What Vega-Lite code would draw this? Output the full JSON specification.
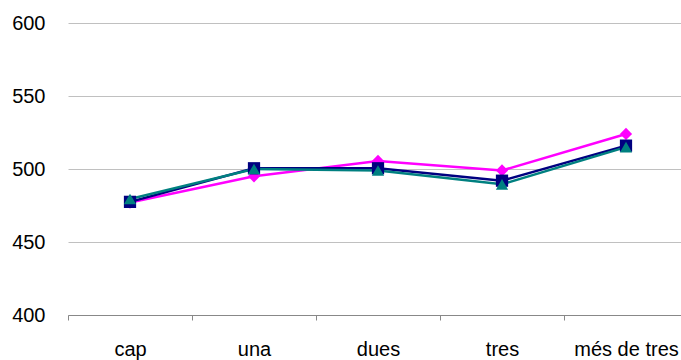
{
  "$schema": "https://vega.github.io/schema/vega-lite/v6.json",
  "width": 620,
  "height": 292,
  "autosize": {"type": "none"},
  "padding": {"left": 68, "top": 23, "right": 0, "bottom": 45},
  "background": "white",
  "config": {"view": {"stroke": null}, "font": "Liberation Sans"},
  "data": {"values": [
    {"cat": "cap", "s": "a", "v": 477},
    {"cat": "una", "s": "a", "v": 495},
    {"cat": "dues", "s": "a", "v": 505.5},
    {"cat": "tres", "s": "a", "v": 499},
    {"cat": "més de tres", "s": "a", "v": 524},
    {"cat": "cap", "s": "b", "v": 477.5},
    {"cat": "una", "s": "b", "v": 500.5},
    {"cat": "dues", "s": "b", "v": 500.5},
    {"cat": "tres", "s": "b", "v": 492},
    {"cat": "més de tres", "s": "b", "v": 516},
    {"cat": "cap", "s": "c", "v": 479.5},
    {"cat": "una", "s": "c", "v": 500},
    {"cat": "dues", "s": "c", "v": 499},
    {"cat": "tres", "s": "c", "v": 489.5},
    {"cat": "més de tres", "s": "c", "v": 515}
  ]},
  "encoding": {
    "x": {
      "field": "cat", "type": "nominal",
      "sort": ["cap", "una", "dues", "tres", "més de tres"],
      "scale": {"type": "band", "paddingInner": 0, "paddingOuter": 0},
      "axis": {"title": null, "labelAngle": 0, "tickBand": "extent", "domainColor": "#888888", "tickColor": "#888888", "tickSize": 5, "labelPadding": 19, "labelFontSize": 20, "labelColor": "black", "grid": false, "labelFont": "Liberation Sans"}
    },
    "y": {
      "field": "v", "type": "quantitative",
      "scale": {"domain": [400, 600], "nice": false, "zero": false},
      "axis": {"title": null, "values": [400, 450, 500, 550, 600], "domain": false, "ticks": false, "tickSize": 0, "labelPadding": 23, "grid": true, "gridColor": "#c0c0c0", "labelFontSize": 20, "labelColor": "black", "labelFont": "Liberation Sans"}
    },
    "color": {
      "field": "s", "type": "nominal",
      "scale": {"domain": ["a", "b", "c"], "range": ["#ff00ff", "#000080", "#008080"]},
      "legend": null
    }
  },
  "layer": [
    {"mark": {"type": "line", "strokeWidth": 2.5}},
    {
      "mark": {"type": "point", "filled": true, "opacity": 1, "size": 150},
      "encoding": {
        "shape": {"field": "s", "type": "nominal", "scale": {"domain": ["a", "b", "c"], "range": ["diamond", "square", "triangle-up"]}, "legend": null}
      }
    }
  ]
}
